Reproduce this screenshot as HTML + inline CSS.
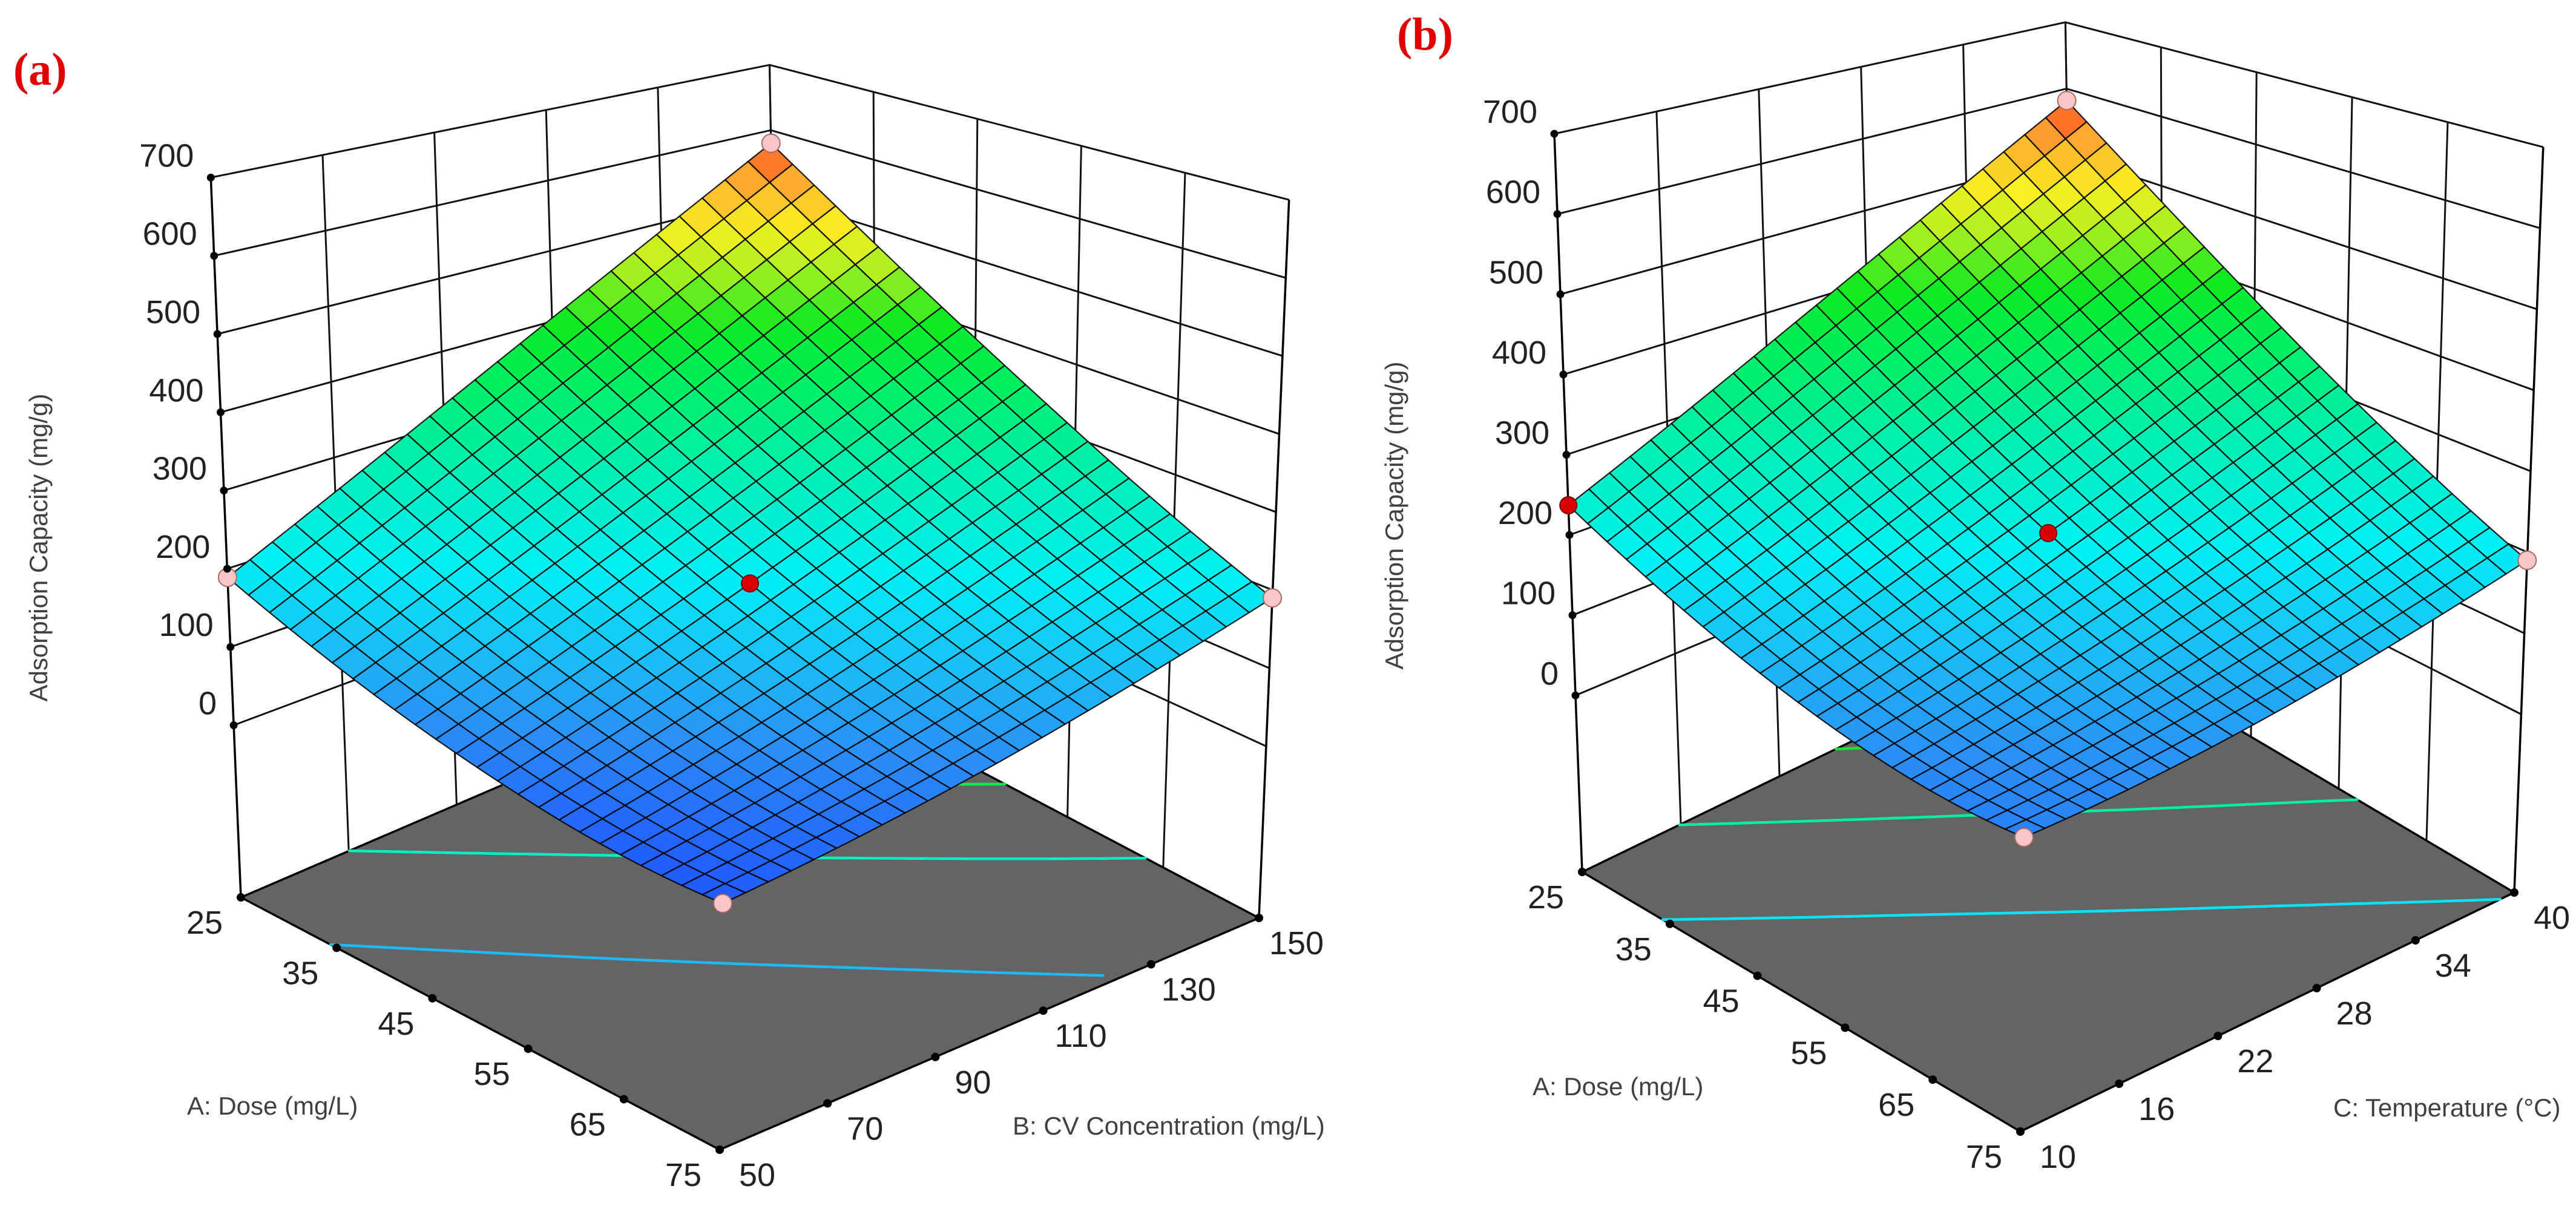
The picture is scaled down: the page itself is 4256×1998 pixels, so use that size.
<!DOCTYPE html>
<html><head><meta charset="utf-8">
<style>
html,body{margin:0;padding:0;background:#fff;}
svg{display:block;}
text{font-family:"Liberation Sans","DejaVu Sans",sans-serif;}
</style></head>
<body>
<svg id="fig" xmlns="http://www.w3.org/2000/svg" width="4256" height="1998" viewBox="0 0 4256 1998">
<rect x="0" y="0" width="4256" height="1998" fill="#fff"/>
<text x="22" y="140" style="font-family:'Liberation Serif',serif;font-weight:bold" font-size="76" fill="#e00000">(a)</text>
<text x="2308" y="82" style="font-family:'Liberation Serif',serif;font-weight:bold" font-size="76" fill="#e00000">(b)</text>
<text transform="translate(78,905) rotate(-90)" text-anchor="middle" font-size="42" fill="#404040">Adsorption Capacity (mg/g)</text>
<text transform="translate(2318,852) rotate(-90)" text-anchor="middle" font-size="42" fill="#404040">Adsorption Capacity (mg/g)</text>
<text x="309" y="1842" font-size="42" fill="#404040">A: Dose (mg/L)</text>
<text x="1673" y="1875" font-size="42" fill="#404040">B: CV Concentration (mg/L)</text>
<text x="2532" y="1810" font-size="42" fill="#404040">A: Dose (mg/L)</text>
<text x="3855" y="1845" font-size="42" fill="#404040">C: Temperature (°C)</text>
</svg>
<script>
// ---------- data ----------
const doseTicks=[25,35,45,55,65,75];
const cvTicks=[50,70,90,110,130,150];
const tempTicks=[10,16,22,28,34,40];
const zTicks=[0,100,200,300,400,500,600,700];
// surface values: rows = dose 25..75 (5 levels), cols = second factor min..max (5 levels)
const surfaceA=[[189,272,365,467,580],[126,193,270,357,454],[83,134,195,266,348],[57,93,138,194,259],[51,71,100,140,190]];
const surfaceB=[[237,308,390,481,582],[169,225,291,367,453],[122,162,213,274,344],[95,121,156,201,257],[90,100,120,150,190]];
const contourLevelsA=[140,255,360];
const contourLevelsB=[185,292,395];
// design points
const designDoseA=[25,75,25,75,50];
const designCvA=[50,50,150,150,100];
const designValA=[189,51,580,190,195];
const designRedA=[0,0,0,0,1];
const designDoseB=[25,75,25,75,50];
const designTempB=[10,10,40,40,25];
const designValB=[237,90,582,190,213];
const designRedB=[1,0,0,0,1];

const NS='http://www.w3.org/2000/svg';
const svg=document.getElementById('fig');
function mk(tag,attrs,parent){const e=document.createElementNS(NS,tag);for(const k in attrs)e.setAttribute(k,attrs[k]);parent.appendChild(e);return e;}

const cmapStops=[[40,[31,79,255]],[100,[43,141,245]],[150,[25,195,247]],[200,[0,240,245]],[280,[0,240,176]],[360,[0,238,80]],[400,[16,234,32]],[450,[168,240,32]],[490,[248,240,32]],[540,[255,168,48]],[585,[255,58,32]]];
function cmap(z){
  if(z<=cmapStops[0][0])return 'rgb('+cmapStops[0][1].join(',')+')';
  for(let i=1;i<cmapStops.length;i++){
    if(z<=cmapStops[i][0]){const a=cmapStops[i-1],b=cmapStops[i];const t=(z-a[0])/(b[0]-a[0]);
      return 'rgb('+a[1].map((c,k)=>Math.round(c+(b[1][k]-c)*t)).join(',')+')';}
  }
  return 'rgb('+cmapStops[cmapStops.length-1][1].join(',')+')';
}
function cr1(a,t){
  const n=a.length;const x=t*(n-1);let i=Math.floor(x);if(i>n-2)i=n-2;if(i<0)i=0;const f=x-i;
  const g=k=>k<0?3*a[0]-3*a[1]+a[2]:(k>n-1?3*a[n-1]-3*a[n-2]+a[n-3]:a[k]);
  const p0=g(i-1),p1=g(i),p2=g(i+1),p3=g(i+2);
  return 0.5*((2*p1)+(-p0+p2)*f+(2*p0-5*p1+4*p2-p3)*f*f+(-p0+3*p1-3*p2+p3)*f*f*f);
}
function sampleGrid(grid,u,v){const col=grid.map(row=>cr1(row,v));return cr1(col,u);}

function drawPanel(id,geom,grid,dTicks,sTicks,levels,pDose,pSec,pVal,pRed){
  const g=mk('g',{},svg);
  
  
  const dMin=dTicks[0],dMax=dTicks[dTicks.length-1],sMin=sTicks[0],sMax=sTicks[sTicks.length-1];
  const uOf=d=>(d-dMin)/(dMax-dMin), vOf=s=>(s-sMin)/(sMax-sMin);
  function bil(P,u,v,k){return P.L[k]*(1-u)*(1-v)+P.F[k]*u*(1-v)+P.R[k]*u*v+P.B[k]*(1-u)*v;}
  const up={L:geom.uL,F:geom.uF,R:geom.uR,B:geom.uB};
  function proj(u,v,z){const h=(z-geom.zf)/100;return [bil(geom,u,v,0)+bil(up,u,v,0)*h, bil(geom,u,v,1)+bil(up,u,v,1)*h];}
  const zTop=zTicks[zTicks.length-1];
  const pts=a=>a.map(p=>p[0].toFixed(1)+','+p[1].toFixed(1)).join(' ');
  // walls
  const walls=mk('g',{stroke:'#111','stroke-width':3,fill:'none'},g);
  
  
  for(let k=0;k<sTicks.length;k++){const v=vOf(sTicks[k]);const l=mk('polyline',{points:pts([proj(0,v,geom.zf),proj(0,v,zTop)])},walls);
    
    }
  for(let k=0;k<dTicks.length;k++){const u=uOf(dTicks[k]);const l=mk('polyline',{points:pts([proj(u,1,geom.zf),proj(u,1,zTop)])},walls);
    
    }
  for(const z of zTicks){const l=mk('polyline',{points:pts([proj(0,0,z),proj(0,1,z),proj(1,1,z)])},walls);
    
    }
  // floor
  const floor=mk('polygon',{points:pts([proj(0,0,geom.zf),proj(1,0,geom.zf),proj(1,1,geom.zf),proj(0,1,geom.zf)]),fill:'#646464',stroke:'#000','stroke-width':3.5},g);
  
  
  // contours via marching squares
  const M=48;const zz=[];
  for(let i=0;i<=M;i++){zz.push([]);for(let j=0;j<=M;j++)zz[i].push(sampleGrid(grid,i/M,j/M));}
  for(const lv of levels){
    let d='';
    for(let i=0;i<M;i++)for(let j=0;j<M;j++){
      const c=[[i,j],[i+1,j],[i+1,j+1],[i,j+1]];const cross=[];
      for(let e=0;e<4;e++){const a=c[e],b=c[(e+1)%4];const za=zz[a[0]][a[1]],zb=zz[b[0]][b[1]];
        if((za-lv)*(zb-lv)<0){const t=(lv-za)/(zb-za);cross.push([(a[0]+(b[0]-a[0])*t)/M,(a[1]+(b[1]-a[1])*t)/M]);}}
      for(let q=0;q+1<cross.length;q+=2){const p1=proj(cross[q][0],cross[q][1],geom.zf),p2=proj(cross[q+1][0],cross[q+1][1],geom.zf);
        d+='M'+p1[0].toFixed(1)+' '+p1[1].toFixed(1)+'L'+p2[0].toFixed(1)+' '+p2[1].toFixed(1);}
    }
    const cl=mk('path',{d:d,stroke:cmap(lv),'stroke-width':4.5,fill:'none','stroke-linecap':'round'},g);
    
    
  }
  // left & right vertical axes
  const ax=mk('g',{stroke:'#000','stroke-width':3.5},g);
  
  
  mk('polyline',{points:pts([proj(0,0,geom.zf),proj(0,0,zTop)])},ax);
  mk('polyline',{points:pts([proj(1,1,geom.zf),proj(1,1,zTop)])},ax);
  // surface
  const N=24;const surf=mk('g',{stroke:'#000','stroke-width':2.2,'stroke-opacity':0.9,'stroke-linejoin':'round'},g);
  
  
  const S=[];for(let i=0;i<=N;i++){S.push([]);for(let j=0;j<=N;j++)S[i].push(sampleGrid(grid,i/N,j/N));}
  const cells=[];for(let i=0;i<N;i++)for(let j=0;j<N;j++)cells.push([i,j]);
  cells.sort((a,b)=>(a[0]-a[1])-(b[0]-b[1]));
  for(const [i,j] of cells){
    const zc=(S[i][j]+S[i+1][j]+S[i+1][j+1]+S[i][j+1])/4;
    const p=mk('polygon',{points:pts([proj(i/N,j/N,S[i][j]),proj((i+1)/N,j/N,S[i+1][j]),proj((i+1)/N,(j+1)/N,S[i+1][j+1]),proj(i/N,(j+1)/N,S[i][j+1])]),fill:cmap(zc)},surf);
    
    
  }
  // design points
  for(let k=0;k<pVal.length;k++){
    const p=proj(uOf(pDose[k]),vOf(pSec[k]),pVal[k]);
    const c=mk('circle',{cx:p[0].toFixed(1),cy:p[1].toFixed(1),r:pRed[k]?14:15,fill:pRed[k]?'#d80000':'#f8c6c6',stroke:pRed[k]?'#700':'#a86a6a','stroke-width':2},g);
    
    
  }
  // ticks and labels
  const tk=mk('g',{},g);
  
  
  for(const z of zTicks){const p=proj(0,0,z);mk('circle',{cx:p[0],cy:p[1],r:6.5,fill:'#000'},tk);
    const t=mk('text',{x:(p[0]-28).toFixed(1),y:(p[1]-18).toFixed(1),'text-anchor':'end','font-size':54,fill:'#222'},tk);t.textContent=z;
    
    }
  for(const d of dTicks){const p=proj(uOf(d),0,geom.zf);mk('circle',{cx:p[0],cy:p[1],r:7,fill:'#000'},tk);
    const t=mk('text',{x:(p[0]-60).toFixed(1),y:(p[1]+60).toFixed(1),'text-anchor':'middle','font-size':54,fill:'#222'},tk);t.textContent=d;
    
    }
  for(const s of sTicks){const p=proj(1,vOf(s),geom.zf);mk('circle',{cx:p[0],cy:p[1],r:7,fill:'#000'},tk);
    const t=mk('text',{x:(p[0]+62).toFixed(1),y:(p[1]+60).toFixed(1),'text-anchor':'middle','font-size':54,fill:'#222'},tk);t.textContent=s;
    
    }
}
const geomA={L:[398,1483],F:[1189,1900],R:[2080,1517],B:[1289,1100],uL:[-5.4,-129.3],uF:[1.9,-150.2],uR:[5.4,-129],uB:[-1.9,-107.9],zf:-220};
const geomB={L:[2614,1441],F:[3338,1870],R:[4154,1475],B:[3429,1046],uL:[-5.0,-132.6],uF:[1.9,-156.8],uR:[5.2,-133.9],uB:[-1.8,-109.7],zf:-220};
drawPanel('panel-a',geomA,surfaceA,doseTicks,cvTicks,contourLevelsA,designDoseA,designCvA,designValA,designRedA);
drawPanel('panel-b',geomB,surfaceB,doseTicks,tempTicks,contourLevelsB,designDoseB,designTempB,designValB,designRedB);
</script>
</body></html>
